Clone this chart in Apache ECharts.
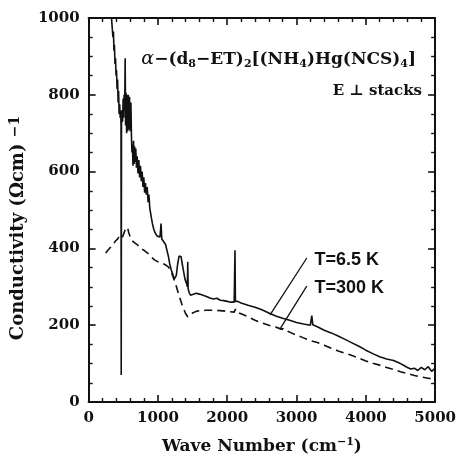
<!DOCTYPE html>
<html>
<head>
<meta charset="utf-8">
<script src="https://cdn.jsdelivr.net/npm/echarts@6/dist/echarts.min.js"></script>
<style>html,body{margin:0;padding:0;background:#fff;}#c{width:459px;height:460px;}</style>
</head>
<body>
<div id="c"></div>
<script>
// Data: [wave number (cm-1), conductivity (Ohm cm)^-1]
var lowTempLabel = 'T=6.5 K';
var roomTempLabel = 'T=300 K';
var xTicks = [0, 1000, 2000, 3000, 4000, 5000];
var yTicks = [0, 200, 400, 600, 800, 1000];

var lowTemp = [
[330,1000],[340,975],[350,950],[358,965],[365,915],[372,930],[380,880],[388,895],[395,850],[402,865],[410,815],[418,840],[425,780],[432,810],[440,750],[448,775],[455,740],[462,760],[467,720],[470,70],[474,720],[482,760],[490,730],[498,790],[505,740],[512,800],[520,760],[527,895],[533,720],[540,805],[548,700],[556,800],[564,705],[572,800],[580,710],[590,795],[600,705],[610,780],[618,690],
[625,650],[632,670],[640,615],[648,680],[656,620],[664,665],[672,625],[680,660],[690,610],[700,640],[712,595],[724,630],[736,585],[748,615],[760,575],[772,600],[784,560],[796,585],[808,545],[820,570],[832,540],[845,560],[858,520],[870,540],[882,505],[895,500],[905,480],[920,465],[940,450],
[960,440],[975,445],[990,432],[1010,435],[1030,430],[1045,465],[1055,425],[1080,418],[1110,410],[1130,405],[1150,380],[1170,360],[1190,345],[1210,335],[1235,320],[1250,318],[1265,330],[1285,360],[1305,380],[1320,385],[1335,378],[1350,360],[1370,340],[1390,320],[1410,310],[1425,300],[1430,365],[1436,295],[1450,285],[1470,278],[1500,280],[1550,283],[1600,281],[1650,278],[1700,275],[1750,271],[1800,268],[1850,270],[1900,265],[1950,264],[2000,262],[2050,260],[2100,260],[2112,395],[2118,262],[2150,262],[2200,258],[2300,252],[2400,247],[2500,240],[2600,232],[2700,224],[2800,218],[2900,213],[3000,207],[3100,203],[3200,200],[3220,225],[3235,201],[3300,196],[3400,187],[3500,180],[3600,172],[3700,163],[3800,154],[3900,145],[4000,135],[4100,126],[4200,118],[4300,112],[4400,108],[4500,100],[4550,95],[4600,90],[4650,86],[4700,88],[4750,82],[4800,90],[4850,84],[4900,92],[4950,80],[5000,88]
];

var roomTemp = [
[245,388],[270,392],[300,400],[330,405],[360,412],[390,420],[420,425],[450,435],[470,440],[490,430],[510,440],[530,450],[560,455],[580,440],[600,430],[630,420],[660,415],[700,410],[750,400],[800,395],[850,388],[900,378],[950,370],[1000,365],[1050,362],[1100,358],[1150,352],[1200,335],[1250,310],[1300,280],[1350,252],[1400,230],[1430,222],[1460,225],[1500,232],[1550,236],[1600,238],[1700,239],[1800,239],[1900,238],[2000,236],[2100,234],[2120,242],[2140,234],[2200,230],[2300,222],[2400,213],[2500,206],[2600,200],[2700,195],[2800,189],[2900,182],[3000,174],[3100,167],[3200,160],[3300,155],[3400,148],[3500,140],[3600,133],[3700,127],[3800,121],[3900,114],[4000,107],[4100,101],[4200,96],[4300,90],[4400,85],[4500,79],[4600,74],[4700,69],[4800,65],[4900,62],[5000,59]
];

// annotation leader lines and label anchors (data coordinates)
var lowLeader = [[3148,375],[2618,227]];
var roomLeader = [[3148,302],[2758,189]];
var roomHook = [[2758,189],[2815,192]];
var lowLabelAt = [3259,370];
var roomLabelAt = [3259,298];

var FONT = 'DejaVu Serif';
var ink = '#111';

function axisCommon(show, minorSplit) {
  return {
    axisLine: {show: true, onZero: false, lineStyle: {color: ink, width: 2}},
    axisTick: {show: true, inside: true, length: 7, lineStyle: {color: ink, width: 1.6}},
    minorTick: {show: true, splitNumber: minorSplit, length: 4, lineStyle: {color: ink, width: 1.4}},
    splitLine: {show: false},
    minorSplitLine: {show: false},
    axisLabel: {show: show, color: ink, fontFamily: FONT, fontWeight: 'bold', fontSize: 15, margin: 9,
      formatter: function (v) { return String(v); }}
  };
}

var chart = echarts.init(document.getElementById('c'), null, {renderer: 'canvas'});
var xb = Object.assign(axisCommon(true, 5), {type: 'value', position: 'bottom', min: xTicks[0], max: xTicks[xTicks.length-1], interval: 1000,
  name: 'Wave Number (cm{sup|−1})', nameLocation: 'middle', nameGap: 35,
  nameTextStyle: {color: ink, fontFamily: FONT, fontWeight: 'bold', fontSize: 17,
    rich: {sup: {fontFamily: FONT, fontWeight: 'bold', fontSize: 11, color: ink, padding: [0, 0, 8, 0]}}}});
var xt = Object.assign(axisCommon(false, 5), {type: 'value', position: 'top', min: 0, max: 5000, interval: 1000});
var yl = Object.assign(axisCommon(true, 4), {type: 'value', position: 'left', min: yTicks[0], max: yTicks[yTicks.length-1], interval: 200,
  name: 'Conductivity (Ωcm) {sup|−1}', nameLocation: 'middle', nameGap: 50,
  nameTextStyle: {color: ink, fontFamily: FONT, fontWeight: 'bold', fontSize: 18, padding: [0, 36, 0, 0],
    rich: {sup: {fontFamily: FONT, fontWeight: 'bold', fontSize: 14, color: ink, padding: [0, 0, 6, 0]}}}});
var yr = Object.assign(axisCommon(false, 4), {type: 'value', position: 'right', min: 0, max: 1000, interval: 200});

chart.setOption({
  animation: false,
  backgroundColor: '#fff',
  grid: {left: 79, right: 21, top: 18, bottom: 55, containLabel: false},
  title: {
    text: '{a|α}−(d{s|8}−ET){s|2}[(NH{s|4})Hg(NCS){s|4}]',
    right: 38, top: 44,
    textStyle: {color: ink, fontFamily: FONT, fontWeight: 'bold', fontSize: 17,
      rich: {
        a: {fontFamily: FONT, fontStyle: 'italic', fontWeight: 'normal', fontSize: 19, color: ink},
        s: {fontFamily: FONT, fontWeight: 'bold', fontSize: 11, color: ink, padding: [10, 0, 0, 0]}
      }}
  },
  graphic: [{
    type: 'text', right: 37, top: 84,
    style: {text: 'E ⊥ stacks', fill: ink, font: 'bold 15px "DejaVu Serif"'}
  }],
  xAxis: [xb, xt],
  yAxis: [yl, yr],
  series: [
    {
      type: 'line', name: lowTempLabel, data: lowTemp, showSymbol: false, symbol: 'none', clip: true,
      lineStyle: {color: ink, width: 1.6},
      markLine: {
        silent: true, symbol: 'none', animation: false,
        lineStyle: {color: ink, width: 1.3, type: 'solid'}, label: {show: false},
        data: [
          [{coord: lowLeader[0]}, {coord: lowLeader[1]}],
          [{coord: roomLeader[0]}, {coord: roomLeader[1]}],
          [{coord: roomHook[0]}, {coord: roomHook[1]}]
        ]
      },
      markPoint: {
        silent: true, symbol: 'circle', symbolSize: 0,
        label: {show: true, position: 'right', distance: 0, color: ink, fontFamily: 'Liberation Sans', fontWeight: 'bold', fontSize: 18},
        data: [
          {coord: lowLabelAt, value: lowTempLabel, label: {formatter: lowTempLabel}},
          {coord: roomLabelAt, value: roomTempLabel, label: {formatter: roomTempLabel}}
        ]
      }
    },
    {
      type: 'line', name: roomTempLabel, data: roomTemp, showSymbol: false, symbol: 'none', clip: true,
      lineStyle: {color: ink, width: 1.6, type: [8, 5]}
    }
  ]
});
</script>
</body>
</html>
